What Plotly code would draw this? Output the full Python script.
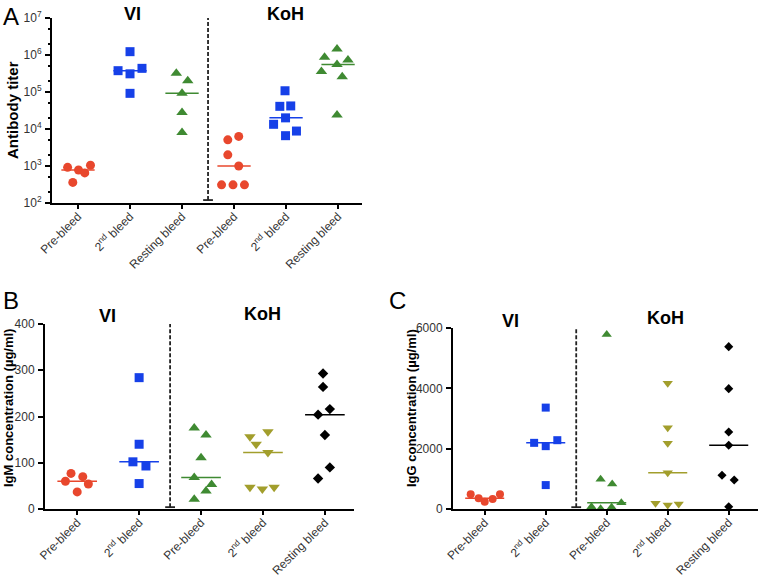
import numpy as np
import plotly.graph_objects as go

# ---------------- data ----------------
cat_a = ["Pre-bleed", "2<sup>nd</sup> bleed", "Resting bleed",
         "Pre-bleed", "2<sup>nd</sup> bleed", "Resting bleed"]
cat_bc = ["Pre-bleed", "2<sup>nd</sup> bleed",
          "Pre-bleed", "2<sup>nd</sup> bleed", "Resting bleed"]

# Panel A: antibody titer
a_vi_pre = [920, 780, 650, 1050, 360]
a_vi_2nd = [1.23e6, 3.77e5, 3.1e5, 4.36e5, 9.2e4]
a_vi_rest = [3.2e5, 2.0e5, 9.2e4, 2.8e4, 8.1e3]
a_koh_pre = [5100, 6300, 2000, 1000, 310, 310, 310]
a_koh_2nd = [1.08e5, 4.1e4, 4.2e4, 2.0e4, 1.34e4, 6.6e3, 8.8e3]
a_koh_rest = [8.7e5, 1.45e6, 7.3e5, 5.5e5, 3.6e5, 2.6e5, 2.4e4]

# Panel B: IgM concentration (ug/ml)
b_vi_pre = [77, 60, 70, 54, 37]
b_vi_2nd = [284, 140, 102, 93, 55]
b_koh_pre = [175, 160, 111, 68, 53, 39, 21]
b_koh_2nd = [156, 140, 167, 122, 47, 43, 47]
b_koh_rest = [293, 264, 216, 204, 160, 90, 66]

# Panel C: IgG concentration (ug/ml)
c_vi_pre = [485, 353, 242, 331, 485]
c_vi_2nd = [3361, 2193, 2083, 2281, 793]
c_koh_pre = [5786, 985, 829, 209, 76, 10, 56]
c_koh_2nd = [4167, 2696, 2178, 1204, 189, 133, 166]
c_koh_rest = [5381, 3989, 2553, 2111, 1117, 961, 76]

# horizontal scatter offsets of the dots (category units)
j_a = [[-0.2, 0.01, 0.13, 0.24, -0.1],
       [0, -0.23, 0, 0.23, 0],
       [-0.11, 0.11, 0, 0, 0],
       [-0.12, 0.09, -0.12, 0.09, -0.24, -0.02, 0.2],
       [-0.02, -0.12, 0.09, -0.01, -0.24, -0.01, 0.2],
       [-0.26, -0.02, 0.19, -0.02, -0.32, 0.08, -0.02]]
j_b = [[-0.1, -0.19, 0.09, 0.18, 0],
       [0, 0, -0.1, 0.11, 0],
       [-0.11, 0.08, 0, -0.11, 0.17, 0.08, -0.11],
       [-0.21, -0.11, 0.08, 0.08, -0.21, -0.01, 0.18],
       [-0.03, -0.03, 0.08, -0.11, 0, 0.08, -0.11]]
j_c = [[-0.23, -0.1, 0, 0.13, 0.25],
       [0, -0.19, 0, 0.19, 0],
       [0, -0.1, 0.09, 0.24, -0.25, -0.1, 0.08],
       [0, 0, 0, 0, -0.2, 0, 0.18],
       [0, 0, 0, 0, -0.11, 0.09, 0]]

RED, BLUE, GREEN, OLIVE, BLACK = "#e8472d", "#1640e8", "#3f8a32", "#a29e2c", "#000000"
FONT = "Liberation Sans, Arial, sans-serif"

fig = go.Figure()


def add_group(pos, vals, offs, color, symbol, size, ax):
    xa, ya = ("x", "y") if ax == 1 else ("x%d" % ax, "y%d" % ax)
    fig.add_trace(go.Scatter(
        x=[pos + o for o in offs], y=vals, mode="markers", xaxis=xa, yaxis=ya,
        marker=dict(color=color, symbol=symbol, size=size, line=dict(width=0)),
        cliponaxis=False, showlegend=False, hoverinfo="y"))
    med = float(np.median(vals))
    fig.add_trace(go.Scatter(
        x=[pos - 0.32, pos + 0.32], y=[med, med], mode="lines", xaxis=xa, yaxis=ya,
        line=dict(color=color, width=1.5), cliponaxis=False, showlegend=False,
        hoverinfo="skip"))


def add_divider(xpos, y0, y1, ax):
    xa, ya = ("x", "y") if ax == 1 else ("x%d" % ax, "y%d" % ax)
    fig.add_trace(go.Scatter(
        x=[xpos, xpos], y=[y0, y1], mode="lines+markers", xaxis=xa, yaxis=ya,
        line=dict(color="#222", width=1.8, dash="4px,2px"),
        marker=dict(symbol="line-ew", size=7, line=dict(color="#222", width=1.8)),
        cliponaxis=False, showlegend=False, hoverinfo="skip"))


# Panel A
groups_a = [(a_vi_pre, RED, "circle", 9), (a_vi_2nd, BLUE, "square", 9),
            (a_vi_rest, GREEN, "triangle-up", 10), (a_koh_pre, RED, "circle", 9),
            (a_koh_2nd, BLUE, "square", 9), (a_koh_rest, GREEN, "triangle-up", 10)]
for i, (v, c, s, z) in enumerate(groups_a):
    add_group(i, v, j_a[i], c, s, z, 1)
add_divider(2.5, 1.2e2, 1.5e7, 1)

# Panel B
groups_b = [(b_vi_pre, RED, "circle", 9), (b_vi_2nd, BLUE, "square", 9),
            (b_koh_pre, GREEN, "triangle-up", 10), (b_koh_2nd, OLIVE, "triangle-down", 10),
            (b_koh_rest, BLACK, "diamond", 8)]
for i, (v, c, s, z) in enumerate(groups_b):
    add_group(i, v, j_b[i], c, s, z, 2)
add_divider(1.5, 4, 408, 2)

# Panel C
groups_c = [(c_vi_pre, RED, "circle", 8), (c_vi_2nd, BLUE, "square", 8),
            (c_koh_pre, GREEN, "triangle-up", 9), (c_koh_2nd, OLIVE, "triangle-down", 9),
            (c_koh_rest, BLACK, "diamond", 7)]
for i, (v, c, s, z) in enumerate(groups_c):
    add_group(i, v, j_c[i], c, s, z, 3)
add_divider(1.5, 60, 6130, 3)

W, H = 762, 576


def dx(a, b):
    return [a / W, b / W]


def dy(top, bottom):
    return [1 - bottom / H, 1 - top / H]


common_x = dict(showgrid=False, zeroline=False, showline=True, linecolor="black",
                linewidth=2, ticks="outside", ticklen=4, tickwidth=1.5, tickcolor="black",
                tickangle=-45, automargin=False, ticklabelstandoff=-4,
                tickfont=dict(family=FONT, size=12, color="#333"))
common_y = dict(showgrid=False, zeroline=False, showline=True, linecolor="black",
                linewidth=2, ticks="outside", ticklen=5, tickwidth=1.5, tickcolor="black",
                automargin=False, ticklabelstandoff=1,
                tickfont=dict(family=FONT, size=12, color="#333"))

fig.update_layout(
    width=W, height=H, margin=dict(l=0, r=0, t=0, b=0, autoexpand=False),
    paper_bgcolor="white", plot_bgcolor="white",
    xaxis=dict(domain=dx(52, 362), range=[-0.5, 5.46], tickvals=list(range(6)),
               ticktext=cat_a, anchor="y", **common_x),
    yaxis=dict(domain=dy(18, 203), type="log", range=[2, 7], anchor="x",
               tickvals=[1e2, 1e3, 1e4, 1e5, 1e6, 1e7],
               ticktext=["10<sup>%d</sup>" % k for k in range(2, 8)],
               minor=dict(ticks="outside", ticklen=2, tickcolor="black", showgrid=False),
               **common_y),
    xaxis2=dict(domain=dx(45, 354), range=[-0.52, 4.47], tickvals=list(range(5)),
                ticktext=cat_bc, anchor="y2", **common_x),
    yaxis2=dict(domain=dy(324, 509), range=[0, 400], anchor="x2",
                tickvals=[0, 100, 200, 300, 400], **common_y),
    xaxis3=dict(domain=dx(453, 758), range=[-0.52, 4.48], tickvals=list(range(5)),
                ticktext=cat_bc, anchor="y3", **common_x),
    yaxis3=dict(domain=dy(328, 509), range=[0, 6000], anchor="x3",
                tickvals=[0, 2000, 4000, 6000], **common_y),
)

anns = [
    ("A", 11, 16, 24, False, 0), ("B", 11, 300, 24, False, 0), ("C", 397, 300, 24, False, 0),
    ("VI", 132, 14, 18, True, 0), ("KoH", 285, 14, 18, True, 0),
    ("VI", 107, 316, 18, True, 0), ("KoH", 262, 314, 18, True, 0),
    ("VI", 511, 321, 18, True, 0), ("KoH", 665, 318, 18, True, 0),
    ("Antibody titer", 12, 110, 15, True, -90),
    ("IgM concentration (µg/ml)", 8, 408, 13, True, -90),
    ("IgG concentration (µg/ml)", 411, 408, 13, True, -90),
]
for text, x, y, size, bold, ang in anns:
    fig.add_annotation(
        x=x / W, y=1 - y / H, xref="paper", yref="paper", showarrow=False,
        text="<b>%s</b>" % text if bold else text, textangle=ang,
        xanchor="center", yanchor="middle",
        font=dict(family=FONT, size=size, color="black"))

fig.write_html("out.html", config={"displayModeBar": False},
               post_script="document.body.style.margin='0';document.body.style.overflow='hidden';")
